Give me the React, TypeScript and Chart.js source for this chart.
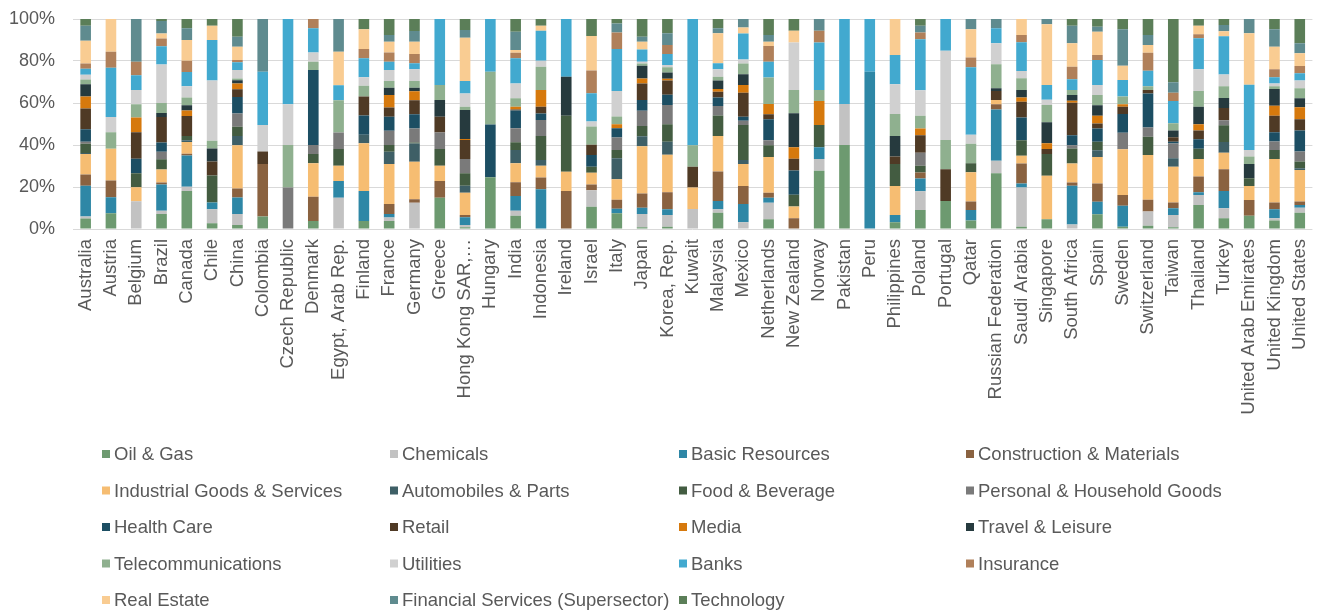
import React, { useEffect, useRef } from "react";
import { Chart, registerables } from "chart.js";

Chart.register(...registerables);

const FAMILY = "'Liberation Sans', Arial, Helvetica, sans-serif";
const TEXT_COLOR = "#595959";

const countries = [
  "Australia", "Austria", "Belgium", "Brazil", "Canada", "Chile", "China", "Colombia",
  "Czech Republic", "Denmark", "Egypt, Arab Rep.", "Finland", "France", "Germany", "Greece",
  "Hong Kong SAR,…", "Hungary", "India", "Indonesia", "Ireland", "Israel", "Italy", "Japan",
  "Korea, Rep.", "Kuwait", "Malaysia", "Mexico", "Netherlands", "New Zealand", "Norway",
  "Pakistan", "Peru", "Philippines", "Poland", "Portugal", "Qatar", "Russian Federation",
  "Saudi Arabia", "Singapore", "South Africa", "Spain", "Sweden", "Switzerland", "Taiwan",
  "Thailand", "Turkey", "United Arab Emirates", "United Kingdom", "United States",
];

const yTicks = [0, 10, 20, 30, 40, 50, 60, 70, 80, 90, 100];

// Sector shares per country (same order as countries), in %
const oilGas = [5, 7.5, 0, 7.1, 18.1, 2.7, 1.9, 5.9, 0, 3.8, 0, 3.8, 3.8, 0, 14.9, 0.8, 24.6, 6.3, 0, 0, 10.6, 7.5, 0.8, 1.1, 0, 7.8, 0, 4.6, 0, 27.8, 40, 0, 3.2, 9, 13.3, 4, 26.5, 1.1, 4.6, 0, 7, 1.1, 1.6, 0.8, 11.4, 5.1, 6.3, 4, 7.8];
const chemicals = [1, 0, 13.2, 1.6, 2, 6.7, 5.2, 0, 0, 0, 14.9, 0, 1.7, 12.5, 0, 1.1, 0, 2.4, 0, 0, 7.9, 0, 6.3, 5.6, 9.5, 1.6, 3.2, 7.9, 0, 5.6, 19.5, 0, 0, 9, 0, 0, 6, 18.7, 0, 2.2, 0, 0, 6.7, 5.9, 4.8, 4.8, 0, 1.1, 2.4];
const basicResources = [14.8, 7.6, 0, 12.5, 14.8, 3.2, 7.9, 0, 0, 0, 7.9, 14.3, 1.6, 0, 0, 3.7, 0, 7, 19, 0, 0, 2.1, 3, 2.7, 0, 4, 8.7, 2.4, 0, 5.6, 0, 74.9, 3.5, 6, 0, 5.1, 24.4, 1.9, 0, 18.4, 6, 10, 0, 3.2, 1.3, 8.3, 0, 4.3, 1.3];
const construction = [5.5, 8, 0, 1, 0.8, 0, 4.3, 25.1, 0, 11.6, 0, 0, 4.8, 1.7, 7.9, 1.1, 0, 6.5, 5.6, 18.1, 2.7, 4.3, 6.8, 8.1, 0, 14, 8.6, 2.4, 5.1, 0, 0, 0, 0, 2.9, 0, 4, 2.4, 9.5, 0, 1.6, 8.7, 5.1, 5.6, 2.7, 7.5, 10.3, 7.5, 3.2, 1.6];
const industrial = [9.8, 15.2, 6.7, 6.2, 5.6, 0, 20.6, 0, 0, 15.9, 7.3, 22.7, 19, 17.8, 7.3, 10.6, 0, 9, 5.6, 9.2, 5.6, 9.8, 22.5, 17.8, 10.3, 17, 10.5, 17.1, 5.6, 0, 0, 0, 13.8, 0, 0, 14, 2.1, 3.7, 20.8, 9, 12.7, 21.7, 21.4, 17.1, 8.4, 7.9, 6.7, 20.8, 15.1];
const automobiles = [0.5, 0, 0, 0, 0.8, 0, 4.4, 0, 0, 0, 0, 4, 5.9, 8.7, 0, 3.3, 0, 6.3, 2.7, 0, 0, 10, 4.8, 6.3, 0, 0, 1.9, 0, 0, 0, 0, 0, 0, 0, 0, 0, 0, 0, 0, 0, 3.2, 0, 0, 4, 0, 5.2, 0, 0, 0.8];
const foodBeverage = [4.5, 0, 6.7, 4.9, 2, 12.9, 4.3, 0, 0, 4.4, 7.9, 0, 3.2, 0.5, 7.9, 5.9, 0, 3.7, 11.4, 26.7, 2.9, 4, 4.8, 8.3, 0, 9.7, 16.7, 5.6, 5.6, 10.6, 0, 0, 10.5, 3.2, 0, 4.3, 0, 7.5, 10.3, 7.1, 4, 0, 8.7, 0, 4.8, 7.9, 3.7, 4.3, 3.2];
const personalHousehold = [1, 0, 0, 3.5, 0, 0, 6.3, 0, 19.8, 4.3, 7.9, 0, 6.8, 6.7, 7.9, 6.8, 0, 6.7, 7.6, 0, 0, 5.9, 7.3, 9.2, 0, 4.6, 2.1, 2.4, 0, 0, 0, 0, 0, 6.2, 0, 0, 0, 0, 0, 1.6, 0, 7.9, 4.4, 7.1, 0, 2.4, 0, 4, 4.8];
const healthCare = [6, 0, 6.8, 4.4, 0, 0, 7.9, 0, 0, 35.7, 0, 9.2, 6.7, 6.8, 0, 0, 25.2, 8.4, 3.2, 0, 5.6, 4.4, 5.1, 4.8, 0, 4.1, 1.9, 10, 11.6, 0, 0, 0, 0, 0, 0, 0, 0, 10.8, 0, 4.8, 6.3, 8.9, 16.2, 0.8, 4.6, 0, 0, 4.4, 10];
const retail = [10, 0, 12.7, 12.2, 9.5, 6.7, 3.7, 5.9, 0, 0, 0, 9, 4.3, 6.7, 7.5, 9, 0, 0.5, 3.2, 0, 4.8, 0, 7.9, 6.8, 9.8, 2.7, 11.4, 2.4, 5.6, 0, 0, 0, 3.5, 8.4, 15.1, 0, 4.3, 7.5, 2.4, 15.4, 2.4, 3.5, 1.6, 2.1, 4.1, 5.9, 0, 7.9, 5.4];
const media = [5.7, 0, 7, 0, 2.7, 0, 2.7, 0, 0, 0, 0, 0, 6, 4.3, 0, 0.5, 0, 1.3, 7.9, 0, 0, 1.9, 2.4, 0.8, 0, 1.3, 3.7, 4.8, 5.6, 11.4, 0, 0, 0, 3.2, 0, 0, 0, 2.1, 2.7, 1, 3.7, 1.1, 0, 0, 3, 0, 0, 4.8, 5.7];
const travelLeisure = [5.9, 0, 0, 1.9, 2.4, 6.2, 1.6, 0, 0, 0, 0, 0, 3.5, 1.6, 7.9, 13.8, 0, 0, 0, 18.6, 0, 0, 6, 3, 0, 4, 5.1, 0, 16.2, 0, 0, 0, 9.8, 0, 0, 0, 1.3, 3.5, 10, 2.7, 5.1, 0, 0, 3.2, 8.4, 4.8, 6.8, 7.9, 4.3];
const telecom = [2.4, 7.8, 6.3, 4.8, 3.7, 3.7, 0.8, 0, 20.2, 4, 15.4, 5.1, 3.2, 3.2, 7.1, 1.6, 25.1, 4, 11.1, 0, 8.7, 3.7, 1.1, 2.5, 10.3, 1.9, 5.2, 12.7, 11.1, 5.2, 0, 0, 10.5, 6, 14, 9.2, 11.4, 5.6, 8.3, 2.4, 4.8, 3.7, 1.9, 3.5, 7.5, 5.6, 3.5, 1.4, 4.8];
const utilities = [2.2, 7.3, 6.8, 18.3, 5.4, 28.7, 4, 12.7, 19.4, 4.3, 0, 4.1, 5.2, 5.6, 0, 6.3, 0, 7.1, 2.9, 0, 2.4, 12.2, 0.8, 1.1, 0, 3.5, 1.9, 0, 22.7, 0, 0, 0, 14.1, 12.2, 42.5, 4.3, 10, 3.5, 2.4, 0, 4.8, 0, 0, 0, 10.3, 5.6, 3.2, 1.3, 3.7];
const banks = [2.9, 23.5, 7, 8.7, 6.7, 19.4, 3.7, 25.4, 40.6, 11.6, 7.1, 9, 4, 2.9, 31.4, 5.9, 25.1, 11.9, 14.3, 27.5, 13.5, 20, 5.9, 5.2, 60, 2.9, 12.4, 7.5, 0, 22.7, 40.5, 25.1, 14, 24.3, 15.1, 32.2, 7.1, 13.7, 7.1, 5.1, 11.9, 7.9, 7.3, 10.6, 14.8, 18.3, 31, 2.9, 3.5];
const insurance = [2.5, 7.6, 6.5, 3.7, 5.4, 0, 1.1, 0, 0, 4.4, 0, 4.4, 4.3, 4.4, 0, 0, 0, 2.7, 0, 0, 10.8, 7.9, 0, 4.3, 0, 0, 0, 7.5, 0, 5.6, 0, 0, 0, 3.2, 0, 4.6, 0, 3.5, 0, 6, 2.4, 0, 8.6, 4, 1.9, 0, 0, 3.8, 3.5];
const realEstate = [11, 15.6, 0, 2.4, 9.8, 6.8, 6.3, 0, 0, 0, 15.9, 9.4, 5.2, 5.9, 0, 20.6, 0, 1.3, 2.4, 0, 16.5, 0, 3.7, 0, 0, 14.3, 2.9, 2.1, 5.6, 0, 0, 0, 17.1, 0, 0, 13.5, 0, 7.6, 28.9, 11.1, 11.1, 6.8, 3.7, 0, 4.1, 2.4, 24.6, 10.8, 6];
const financialServices = [7.3, 0, 20.3, 5.9, 5.6, 0, 4.8, 25.1, 0, 0, 15.6, 0, 3.2, 5.1, 0, 3.7, 0, 8.7, 0, 0, 0, 4.3, 2.4, 5.6, 0, 2.4, 4, 3.2, 0, 5.6, 0, 0, 0, 3.2, 0, 4.9, 4.4, 0, 2.5, 8.4, 2.4, 17.3, 4.8, 4.9, 0, 2.9, 6.8, 8.3, 4.8];
const technology = [3.2, 0, 0, 1, 4.4, 3.2, 8.4, 0, 0, 0, 0, 4.9, 7.6, 5.7, 0, 5.2, 0, 6, 3.2, 0, 8.1, 2.1, 8.4, 6.8, 0, 4.4, 0, 7.6, 5.6, 0, 0, 0, 0, 3.2, 0, 0, 0, 0, 0, 3.2, 3.7, 4.9, 7.6, 30.2, 3.2, 2.9, 0, 4.9, 11.6];

const sectorNames = [
  "Oil & Gas", "Chemicals", "Basic Resources", "Construction & Materials",
  "Industrial Goods & Services", "Automobiles & Parts", "Food & Beverage", "Personal & Household Goods",
  "Health Care", "Retail", "Media", "Travel & Leisure",
  "Telecommunications", "Utilities", "Banks", "Insurance",
  "Real Estate", "Financial Services (Supersector)", "Technology",
];
const sectorValues = [
  oilGas, chemicals, basicResources, construction, industrial, automobiles, foodBeverage,
  personalHousehold, healthCare, retail, media, travelLeisure, telecom, utilities, banks,
  insurance, realEstate, financialServices, technology,
];
const sectorColors = [
  "#6d9a70", "#c2c2c2", "#2e87a6", "#8a6240", "#f6bd72", "#3e5f66", "#435c41", "#7a7a7a",
  "#1c4e63", "#4f3a25", "#d6790d", "#263a3e", "#8fb08f", "#d0d0d0", "#42a9cf", "#b0805a",
  "#f9cc92", "#5f8b8f", "#5b7e58",
];

// layout constants for the grid legend
const LEGEND_COL_X = [102, 390, 679, 966];
const LEGEND_TOP = 454;
const LEGEND_ROW_H = 36.5;

const gridLegend = {
  id: "gridLegend",
  afterDraw(chart: any) {
    const ctx = chart.ctx;
    ctx.save();
    ctx.font = `18.5px ${FAMILY}`;
    ctx.textBaseline = "middle";
    ctx.textAlign = "left";
    chart.data.datasets.forEach((ds: any, i: number) => {
      const col = i % 4;
      const row = Math.floor(i / 4);
      const x = LEGEND_COL_X[col];
      const y = LEGEND_TOP + row * LEGEND_ROW_H;
      ctx.fillStyle = ds.backgroundColor;
      ctx.fillRect(x, y - 4, 8, 8);
      ctx.fillStyle = TEXT_COLOR;
      ctx.fillText(ds.label, x + 12, y + 1);
    });
    ctx.restore();
  },
};

export default function App() {
  const canvasRef = useRef<HTMLCanvasElement | null>(null);

  useEffect(() => {
    const canvas = canvasRef.current;
    if (!canvas) return;
    const totals = countries.map((_, ci) =>
      sectorValues.reduce((s, arr) => s + arr[ci], 0)
    );
    const datasets = sectorNames.map((name, si) => ({
      label: name,
      data: sectorValues[si].map((v, ci) => (totals[ci] ? (v / totals[ci]) * 100 : 0)),
      backgroundColor: sectorColors[si],
      borderWidth: 0,
      barPercentage: 0.42,
      categoryPercentage: 1,
    }));

    const chart = new Chart(canvas, {
      type: "bar",
      data: { labels: countries, datasets },
      options: {
        responsive: false,
        animation: false,
        layout: { padding: { top: 19, right: 4, bottom: 185, left: 0 } },
        plugins: {
          legend: { display: false },
          tooltip: { enabled: false },
        },
        scales: {
          x: {
            stacked: true,
            grid: { display: false },
            border: { display: false },
            ticks: {
              autoSkip: false,
              minRotation: 90,
              maxRotation: 90,
              padding: 2,
              color: TEXT_COLOR,
              font: { size: 18.5, family: FAMILY },
            },
            afterFit: (scale: any) => {
              scale.height = 200;
            },
          },
          y: {
            stacked: true,
            min: yTicks[0],
            max: yTicks[yTicks.length - 1],
            afterBuildTicks: (scale: any) => {
              scale.ticks = yTicks.map((v) => ({ value: v }));
            },
            ticks: {
              padding: 0,
              color: TEXT_COLOR,
              font: { size: 18, family: FAMILY },
              callback: (v: any) => `${v}%`,
            },
            grid: {
              color: "#d9d9d9",
              lineWidth: 1,
              drawTicks: true,
              tickLength: 18,
              tickColor: "rgba(0,0,0,0)",
            },
            border: { display: false },
            afterFit: (scale: any) => {
              scale.width = 73;
            },
          },
        },
      },
      plugins: [gridLegend],
    });
    return () => chart.destroy();
  }, []);

  return (
    <div style={{ position: "fixed", left: 0, top: 0, width: 1324, height: 614, background: "#fff" }}>
      <canvas ref={canvasRef} width={1324} height={614} style={{ display: "block" }} />
    </div>
  );
}
